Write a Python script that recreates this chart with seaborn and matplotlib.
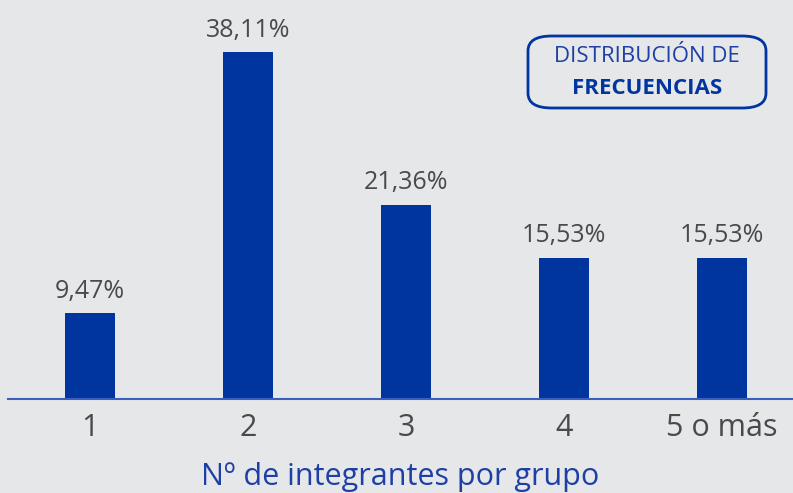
import matplotlib
matplotlib.use("Agg")
import matplotlib.pyplot as plt
import seaborn as sns
import pandas as pd
from matplotlib.patches import FancyBboxPatch

categorias = ["1", "2", "3", "4", "5 o más"]
porcentajes = [9.47, 38.11, 21.36, 15.53, 15.53]
etiquetas = ["9,47%", "38,11%", "21,36%", "15,53%", "15,53%"]

bg = "#E6E7E9"
azul = "#0035A0"
gris = "#4A4A4A"

sns.set_theme(style="white")
plt.rcParams["font.family"] = ["Open Sans", "DejaVu Sans"]

df = pd.DataFrame({"grupo": categorias, "pct": porcentajes})

fig = plt.figure(figsize=(7.93, 4.93), dpi=100, facecolor=bg)
ax = fig.add_axes([8 / 793, 94 / 493, 785 / 793, 399 / 493])
ax.set_facecolor(bg)

sns.barplot(data=df, x="grupo", y="pct", color=azul, width=0.32,
            saturation=1, linewidth=0, edgecolor="none", ax=ax)

for i, (v, t) in enumerate(zip(porcentajes, etiquetas)):
    ax.text(i, v + 1.0, t, ha="center", va="bottom", fontsize=18,
            color=gris)

ax.set_xlim(-0.519, 4.449)
ax.set_ylim(0, 43.82)
ax.set_yticks([])
ax.set_ylabel("")
for s in ["top", "right", "left"]:
    ax.spines[s].set_visible(False)
ax.spines["bottom"].set_color("#3A5FBF")
ax.spines["bottom"].set_linewidth(1.5)
ax.tick_params(axis="x", length=0, pad=10, labelsize=22, labelcolor=gris)
ax.set_xlabel("Nº de integrantes por grupo", fontsize=22, color="#1E3FA5",
              labelpad=14)

box = FancyBboxPatch((528 / 793, (493 - 108) / 493), 238 / 793, 72 / 493,
                     boxstyle="round,pad=0,rounding_size=0.03",
                     transform=fig.transFigure, facecolor="none",
                     edgecolor="#0035A0", linewidth=2)
fig.patches.append(box)
fig.text(647 / 793, (493 - 57) / 493, "DISTRIBUCIÓN DE", ha="center",
         va="center", fontsize=16, color="#1E3FA5")
fig.text(647 / 793, (493 - 89) / 493, "FRECUENCIAS", ha="center",
         va="center", fontsize=16, color="#0035A0", fontweight="bold")

fig.savefig("out.png", dpi=100, facecolor=bg)
